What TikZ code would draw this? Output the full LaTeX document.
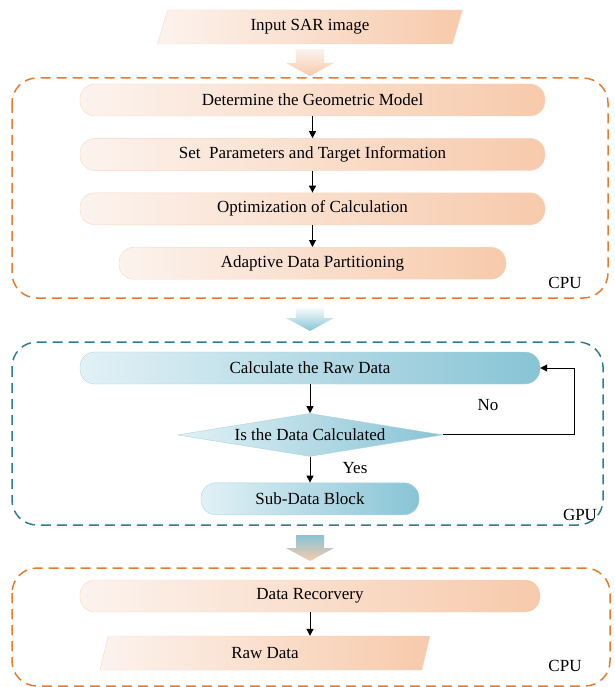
\documentclass[tikz,border=0pt]{standalone}
\usepackage{fontspec}
\setmainfont{Liberation Serif}
\usetikzlibrary{
  positioning,
  shapes.geometric,
  arrows.meta
}
\definecolor{peachL}{RGB}{252,243,238}
\definecolor{peachR}{RGB}{247,202,171}
\definecolor{peachline}{RGB}{248,214,192}
\definecolor{blueL}{RGB}{226,241,246}
\definecolor{blueR}{RGB}{136,196,213}
\definecolor{blueline}{RGB}{170,213,226}
\definecolor{cpuline}{RGB}{232,123,42}
\definecolor{gpuline}{RGB}{44,127,144}

\begin{document}
\begin{tikzpicture}[
  x=1pt, y=-1pt,
  font=\fontsize{17}{20}\selectfont,
  node distance=22pt,
  cpustep/.style={draw=peachline, left color=peachL, right color=peachR, rounded corners=15pt, minimum width=465pt, minimum height=32pt, align=center},
  gpustep/.style={draw=blueline, left color=blueL, right color=blueR, rounded corners=15pt, minimum width=460pt, minimum height=32pt, align=center},
  io/.style={trapezium, trapezium left angle=62, trapezium right angle=118, trapezium stretches body, draw=peachline, left color=peachL, right color=peachR, minimum height=34pt, inner sep=2pt},
  decision/.style={diamond, aspect=6.2, inner sep=0pt, draw=blueline, left color=blueL, right color=blueR, minimum width=265pt, minimum height=43pt},
  frame/.style={rounded corners=25pt, line width=1.5pt, dash pattern=on 10pt off 6pt},
  flow/.style={line width=1pt, -{Triangle[length=7pt, width=7pt]}}
]
\useasboundingbox (0,0) rectangle (614,687);

% Input
\node[io, minimum width=305pt] (input) at (310,27) {Input SAR image};
\shade[top color=peachL, bottom color=peachR] (296,49) -- (324,49) -- (324,63) -- (334,63) -- (310,76) -- (286,63) -- (296,63) -- cycle;

% CPU stage
\draw[frame, cpuline] (12,78) rectangle (608,298);
\node[cpustep] (geomodel) at (312.5,100) {Determine the Geometric Model};
\node[cpustep, below=of geomodel] (params) {Set\ \ Parameters and Target Information};
\node[cpustep, below=of params] (optim) {Optimization of Calculation};
\node[cpustep, below=of optim, minimum width=387pt] (partition) {Adaptive Data Partitioning};
\node (cpuA) at (565,283) {CPU};

\draw[flow] (geomodel) -- (params);
\draw[flow] (params) -- (optim);
\draw[flow] (optim) -- (partition);

\shade[top color=white, bottom color=blueR] (296,306) -- (324,306) -- (324,318) -- (334,318) -- (310,331) -- (286,318) -- (296,318) -- cycle;

% GPU stage
\draw[frame, gpuline] (12,342) rectangle (603,525);
\node[gpustep] (rawcalc) at (310,368) {Calculate the Raw Data};
\node[decision, below=29pt of rawcalc] (isdone) {Is the Data Calculated};
\node[gpustep, below=26pt of isdone, minimum width=218pt] (subblock) {Sub-Data Block};
\node (nolabel) at (488,405) {No};
\node (yeslabel) at (355,468) {Yes};
\node (gpu) at (580,515) {GPU};

\draw[flow] (rawcalc) -- (isdone);
\draw[flow] (isdone) -- (subblock);
\draw[flow] (isdone.east) -- ++(132,0) |- (rawcalc.east);

\shade[top color=blueR, bottom color=peachR] (296,535) -- (324,535) -- (324,548) -- (334,548) -- (310,561) -- (286,548) -- (296,548) -- cycle;

% Output
\draw[frame, cpuline] (12,568) rectangle (610,686);
\node[gpustep, draw=peachline, left color=peachL, right color=peachR] (recovery) at (310,596) {Data Recorvery};
\node[io, minimum width=330pt] (rawdata) at (265,653) {Raw Data};
\node (cpuB) at (565,666) {CPU};

\draw[flow] (recovery.south) -- (recovery.south |- rawdata.north);

\end{tikzpicture}
\end{document}
